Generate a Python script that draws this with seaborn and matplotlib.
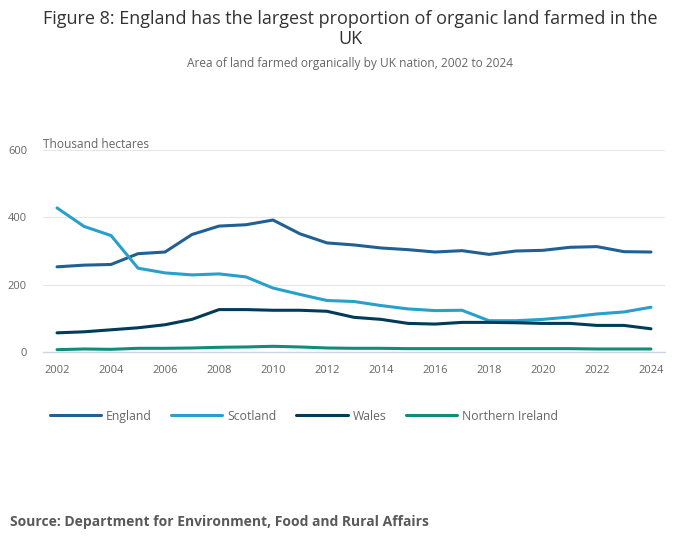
import matplotlib
matplotlib.use("Agg")
import matplotlib.pyplot as plt
import seaborn as sns
import pandas as pd

# Area of land farmed organically, thousand hectares
years = list(range(2002, 2025))
england = [253, 258, 260, 292, 297, 349, 374, 378, 392, 351, 324, 318,
           309, 304, 297, 301, 290, 300, 302, 311, 313, 298, 297]
scotland = [428, 373, 346, 249, 235, 229, 232, 223, 190, 171, 153, 150,
            138, 128, 123, 124, 93, 93, 97, 104, 113, 119, 133]
wales = [57, 60, 66, 72, 81, 97, 126, 126, 124, 124, 121, 103,
         97, 85, 83, 88, 88, 87, 85, 85, 79, 79, 69]
northern_ireland = [7, 9, 8, 11, 11, 12, 14, 15, 17, 15, 12, 11,
                    11, 10, 10, 10, 10, 10, 10, 10, 9, 9, 9]

nations = ["England", "Scotland", "Wales", "Northern Ireland"]
colours = ["#206095", "#27a0cc", "#003c57", "#118c7b"]

df = pd.DataFrame({
    "year": years * 4,
    "area": england + scotland + wales + northern_ireland,
    "nation": [n for n in nations for _ in years],
})

sns.set_style("white")
plt.rcParams["font.family"] = ["Open Sans", "DejaVu Sans"]

fig = plt.figure(figsize=(7, 5.49), dpi=100)
ax = fig.add_axes([0.0614, 0.3588, 0.8886, 0.368])

sns.lineplot(data=df, x="year", y="area", hue="nation", palette=colours,
             hue_order=nations, linewidth=2.2, ax=ax, legend=False)

ax.set_xlim(2001.48, 2024.52)
ax.set_ylim(0, 600)
ax.set_xticks(range(2002, 2025, 2))
ax.set_yticks([0, 200, 400, 600])
ax.grid(axis="y", color="#e6e6e6", linewidth=0.8)
ax.set_axisbelow(True)
for side in ["top", "right", "left"]:
    ax.spines[side].set_visible(False)
ax.spines["bottom"].set_color("#ccd6eb")
ax.spines["bottom"].set_linewidth(1)
ax.tick_params(axis="x", colors="#ccd6eb", length=7, width=1,
               labelcolor="#666666", labelsize=8, pad=2)
ax.tick_params(axis="y", length=0, labelcolor="#666666", labelsize=8, pad=11.5)
ax.set_xlabel("")
ax.set_ylabel("")

fig.text(0.5, 0.981, "Figure 8: England has the largest proportion of organic land farmed in the\nUK",
         ha="center", va="top", fontsize=13.0, color="#333333", linespacing=1.08)
fig.text(0.5, 0.884, "Area of land farmed organically by UK nation, 2002 to 2024",
         ha="center", va="center", fontsize=8.6, color="#666666")
fig.text(0.0614, 0.737, "Thousand hectares", ha="left", va="center",
         fontsize=8.6, color="#666666")

handles = [plt.Line2D([], [], color=c, linewidth=2.2) for c in colours]
leg = fig.legend(handles, nations, loc="center left", bbox_to_anchor=(0.055, 0.242),
                 ncol=4, frameon=False, fontsize=8.8, handlelength=4.2,
                 columnspacing=1.6, handletextpad=0.4)
for t in leg.get_texts():
    t.set_color("#666666")

fig.text(0.014, 0.05, "Source: Department for Environment, Food and Rural Affairs",
         ha="left", va="center", fontsize=10.0, fontweight="bold", color="#595959")

fig.savefig("out.png", dpi=100)
